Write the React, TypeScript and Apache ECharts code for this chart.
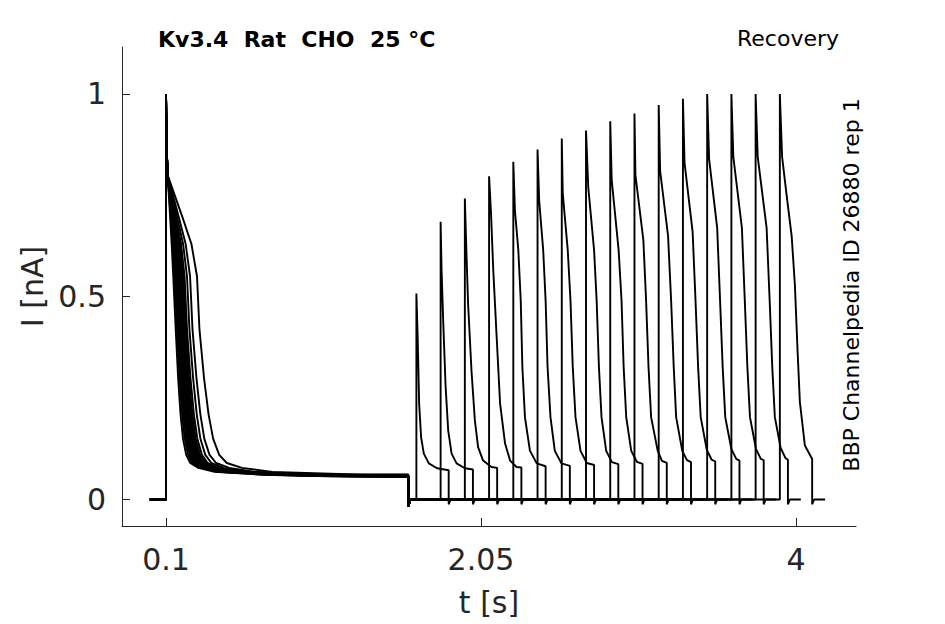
import React, { useEffect, useRef } from "react";
import * as echarts from "echarts";

// Axis ticks
const xTickValues = [0.1, 2.05, 4];
const yTickValues = [0, 0.5, 1];

// Conditioning pulse (starts at 0.1 s, lasts 1.5 s): decay shape of the fastest trace
const firstPulseDt = [0, 0.003, 0.01, 0.025, 0.035, 0.045, 0.06, 0.075, 0.09, 0.105, 0.125, 0.15, 0.2, 0.3, 0.6, 1.0, 1.5];
const firstPulseI = [1.0, 0.88, 0.8, 0.7, 0.63, 0.55, 0.42, 0.3, 0.21, 0.15, 0.11, 0.09, 0.078, 0.068, 0.061, 0.057, 0.055];
// extra delay (s) of each sweep's inactivation relative to the fastest trace
const firstPulseDelay = [0, 0.008, 0.015, 0.02, 0.025, 0.03, 0.035, 0.04, 0.045, 0.05, 0.055, 0.062, 0.07, 0.085, 0.104, 0.147];

// Test pulse start times (s) of each sweep
const recoveryStart = [1.65, 1.8, 1.95, 2.1, 2.25, 2.4, 2.55, 2.7, 2.85, 3.0, 3.15, 3.3, 3.45, 3.6, 3.75, 3.9];

// Test pulse shapes: time after test-pulse onset (s) and current (nA)
const recoveryDt = [
  [0, 0.008, 0.017, 0.029, 0.046, 0.077, 0.128, 0.2],
  [0, 0.006, 0.016, 0.031, 0.047, 0.068, 0.099, 0.15, 0.2],
  [0, 0.01, 0.02, 0.041, 0.062, 0.082, 0.113, 0.165, 0.2],
  [0, 0.012, 0.026, 0.047, 0.068, 0.099, 0.13, 0.17, 0.2],
  [0, 0.01, 0.031, 0.046, 0.056, 0.072, 0.103, 0.145, 0.2],
  [0, 0.01, 0.035, 0.05, 0.062, 0.08, 0.107, 0.148, 0.2],
  [0, 0.006, 0.037, 0.054, 0.068, 0.085, 0.116, 0.155, 0.2],
  [0, 0.014, 0.05, 0.066, 0.08, 0.096, 0.125, 0.16, 0.2],
  [0, 0.009, 0.052, 0.07, 0.083, 0.099, 0.13, 0.165, 0.2],
  [0, 0.006, 0.055, 0.072, 0.087, 0.103, 0.144, 0.17, 0.2],
  [0, 0.009, 0.058, 0.077, 0.093, 0.108, 0.146, 0.175, 0.2],
  [0, 0.01, 0.06, 0.078, 0.094, 0.11, 0.148, 0.178, 0.2],
  [0, 0.012, 0.062, 0.08, 0.096, 0.112, 0.15, 0.18, 0.2],
  [0, 0.012, 0.065, 0.083, 0.099, 0.115, 0.152, 0.182, 0.2],
  [0, 0.013, 0.068, 0.087, 0.103, 0.119, 0.155, 0.185, 0.2],
  [0, 0.014, 0.042, 0.073, 0.093, 0.11, 0.124, 0.155, 0.2],
];
const recoveryI = [
  [0.508, 0.4, 0.237, 0.154, 0.113, 0.089, 0.077, 0.072],
  [0.685, 0.565, 0.44, 0.277, 0.17, 0.113, 0.089, 0.077, 0.074],
  [0.742, 0.607, 0.483, 0.318, 0.195, 0.129, 0.096, 0.08, 0.078],
  [0.797, 0.706, 0.565, 0.4, 0.237, 0.138, 0.096, 0.08, 0.079],
  [0.833, 0.713, 0.615, 0.49, 0.327, 0.203, 0.12, 0.089, 0.082],
  [0.863, 0.738, 0.615, 0.49, 0.327, 0.203, 0.12, 0.089, 0.083],
  [0.89, 0.755, 0.615, 0.49, 0.327, 0.203, 0.12, 0.09, 0.085],
  [0.91, 0.77, 0.615, 0.49, 0.327, 0.203, 0.12, 0.092, 0.087],
  [0.933, 0.788, 0.615, 0.49, 0.327, 0.203, 0.12, 0.093, 0.088],
  [0.952, 0.8, 0.64, 0.49, 0.327, 0.203, 0.12, 0.095, 0.09],
  [0.973, 0.81, 0.65, 0.49, 0.327, 0.203, 0.12, 0.097, 0.092],
  [0.988, 0.83, 0.66, 0.49, 0.327, 0.203, 0.122, 0.098, 0.094],
  [1.0, 0.84, 0.67, 0.49, 0.327, 0.203, 0.124, 0.1, 0.096],
  [1.0, 0.845, 0.67, 0.49, 0.327, 0.203, 0.125, 0.1, 0.097],
  [1.0, 0.845, 0.67, 0.49, 0.327, 0.203, 0.127, 0.102, 0.098],
  [1.0, 0.845, 0.75, 0.65, 0.53, 0.364, 0.24, 0.133, 0.1],
];

// Protocol timing / holding-level readings
const conditioningStart = 0.1;
const conditioningEnd = 1.6;
const testDuration = 0.2;
const sweepTail = 0.28;
const stepUndershoot = -0.018;
const endUndershoot = -0.012;
// slower sweeps also have a slower tail: tail time gain per second of delay
const tailGain = 6;

function buildSweep(k: number): number[][] {
  const pts: number[][] = [[0, 0], [conditioningStart, 0]];
  const d = firstPulseDelay[k];
  const span = conditioningEnd - conditioningStart;
  let last = firstPulseI[0];
  for (let i = 0; i < firstPulseDt.length; i++) {
    const dt = firstPulseDt[i];
    const ramp = dt <= 0.01 ? 0 : Math.min(1, (dt - 0.01) / 0.03);
    const t = dt + d * ramp + d * tailGain * Math.max(0, dt - 0.06);
    if (t >= span) break;
    pts.push([conditioningStart + t, firstPulseI[i]]);
    last = firstPulseI[i];
  }
  pts.push([conditioningEnd, last]);
  pts.push([conditioningEnd, stepUndershoot]);
  pts.push([conditioningEnd + 0.012, 0]);
  const t0 = recoveryStart[k];
  pts.push([t0, 0]);
  const dts = recoveryDt[k];
  const is = recoveryI[k];
  for (let i = 0; i < dts.length; i++) pts.push([t0 + dts[i], is[i]]);
  const tEnd = t0 + testDuration;
  pts.push([tEnd, endUndershoot]);
  pts.push([tEnd + 0.012, 0]);
  pts.push([t0 + sweepTail, 0]);
  return pts;
}

const FONT = "DejaVu Sans";
const AX = "#262626";

export default function App() {
  const ref = useRef<HTMLDivElement>(null);
  useEffect(() => {
    if (!ref.current) return;
    const chart = echarts.init(ref.current, undefined, { renderer: "svg" });
    const series = recoveryStart.map((_, k) => ({
      type: "line" as const,
      data: buildSweep(k),
      showSymbol: false,
      symbol: "none",
      lineStyle: { color: "#000", width: 1.9 },
      clip: true,
      silent: true,
    }));
    chart.setOption({
      animation: false,
      backgroundColor: "#fff",
      grid: { left: 122, right: 89, top: 47, bottom: 98, containLabel: false },
      xAxis: {
        type: "value",
        min: -0.1724,
        max: 4.3714,
        name: "t [s]",
        nameLocation: "middle",
        nameGap: 61,
        nameTextStyle: { fontFamily: FONT, fontSize: 30, color: AX },
        axisLine: { show: true, onZero: false, lineStyle: { color: AX, width: 1 } },
        axisTick: { show: true, inside: true, length: 8, customValues: xTickValues, lineStyle: { color: AX } },
        axisLabel: {
          customValues: xTickValues,
          fontFamily: FONT,
          fontSize: 30,
          color: AX,
          margin: 18,
          formatter: (v: number) => String(v),
        },
        splitLine: { show: false },
      },
      yAxis: {
        type: "value",
        min: -0.0654,
        max: 1.1159,
        name: "I [nA]",
        nameLocation: "middle",
        nameGap: 75,
        nameRotate: 90,
        nameTextStyle: { fontFamily: FONT, fontSize: 30, color: AX },
        axisLine: { show: true, onZero: false, lineStyle: { color: AX, width: 1 } },
        axisTick: { show: true, inside: true, length: 8, customValues: yTickValues, lineStyle: { color: AX } },
        axisLabel: {
          customValues: yTickValues,
          fontFamily: FONT,
          fontSize: 30,
          color: AX,
          margin: 16,
          formatter: (v: number) => String(v),
        },
        splitLine: { show: false },
      },
      graphic: [
        {
          type: "text",
          left: 158,
          top: 28,
          style: { text: "Kv3.4  Rat  CHO  25 °C", font: `bold 22px "${FONT}"`, fill: "#000" },
        },
        {
          type: "text",
          right: 106,
          top: 27,
          style: { text: "Recovery", font: `22px "${FONT}"`, fill: "#000" },
        },
        {
          type: "text",
          x: 851,
          y: 285,
          rotation: Math.PI / 2,
          style: {
            text: "BBP Channelpedia ID 26880 rep 1",
            font: `22px "${FONT}"`,
            fill: "#000",
            align: "center",
            verticalAlign: "middle",
          },
        },
      ],
      series,
    });
    return () => chart.dispose();
  }, []);
  return <div ref={ref} style={{ width: 945, height: 624, position: "absolute", left: 0, top: 0 }} />;
}
